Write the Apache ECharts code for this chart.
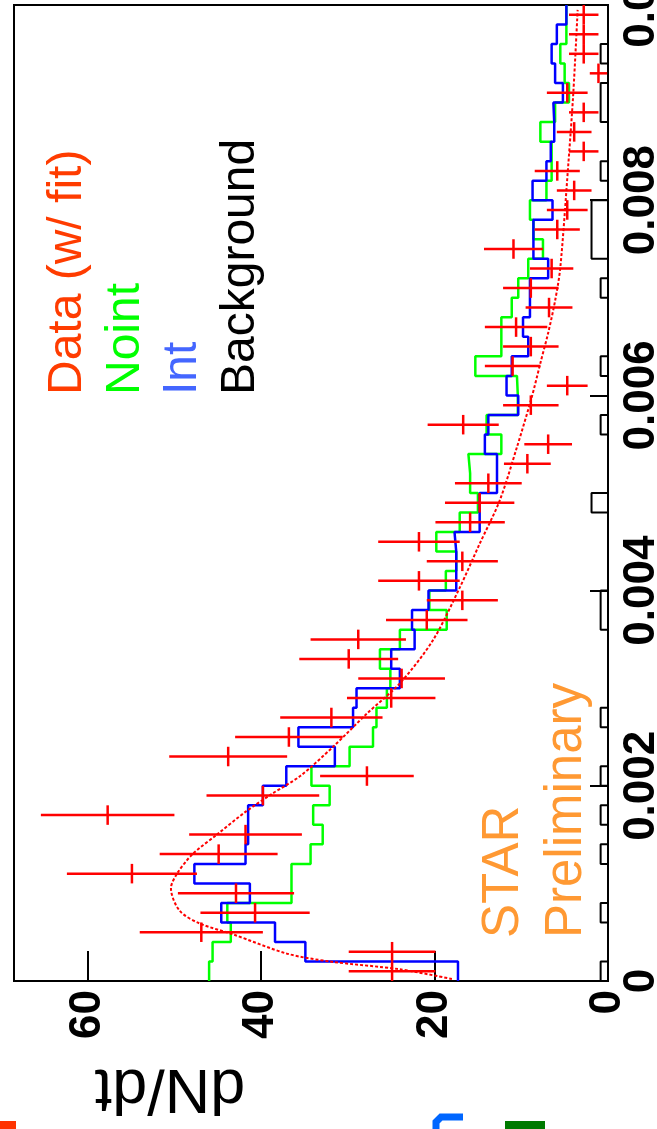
<!DOCTYPE html>
<html>
<head>
<meta charset="utf-8">
<script src="https://cdn.jsdelivr.net/npm/echarts@6/dist/echarts.min.js"></script>
<style>
html,body{margin:0;padding:0;background:#fff;}
#chart{width:657px;height:1129px;}
</style>
</head>
<body>
<div id="chart"></div>
<script>
// ---- data (t bins of width 0.0002 from 0 to 0.01) ----
const binWidth = 0.0002;
const dataValues = [24.9,24.9,46.9,40.7,42.9,54.9,44.9,41.8,57.7,39.8,
  27.8,43.8,36.8,31.9,25.0,23.8,29.9,28.8,20.9,16.8,
  21.8,16.8,21.8,15.9,14.8,13.8,9.3,6.9,16.7,8.9,
  4.7,11.0,8.9,10.6,6.8,8.9,6.5,10.9,5.85,4.7,
  3.9,5.85,2.8,3.9,2.8,4.7,1.1,2.8,2.8,2.8];
const dataErrors = [5.0,5.0,7.1,6.3,6.7,7.5,6.8,6.5,7.7,6.5,
  5.4,6.8,6.2,5.9,5.1,5.0,5.7,5.5,4.7,4.1,
  4.7,4.1,4.7,4.0,4.0,3.85,2.7,2.75,4.1,3.2,
  2.35,3.2,3.2,3.6,2.7,3.2,2.5,3.4,2.6,2.35,
  2.0,2.6,1.7,2.0,1.7,2.35,1.0,1.7,1.7,1.7];
const nointValues = [46.0,45.6,43.5,43.9,36.5,36.5,34.3,32.9,34.0,32.1,
  34.2,29.8,27.1,26.7,25.5,25.1,26.3,24.0,18.6,20.6,
  18.7,17.5,19.8,17.1,15.0,15.9,16.1,12.3,14.0,10.4,
  10.5,15.3,12.3,12.3,11.1,10.35,9.2,7.5,8.6,9.0,
  7.1,6.5,6.5,7.8,6.1,4.5,5.0,5.5,4.8,4.8];
const intValues = [17.3,34.9,38.4,44.6,41.3,47.7,41.8,41.5,41.5,39.8,
  37.1,31.5,35.7,29.4,29.0,24.0,25.0,22.3,22.6,20.7,
  17.5,17.5,17.7,14.8,14.8,12.8,12.8,14.2,13.8,10.35,
  11.7,11.1,9.2,9.8,9.0,9.0,6.9,8.6,8.6,6.4,
  8.7,7.1,6.6,6.2,6.3,5.2,6.1,6.5,5.9,4.8];
const backgroundValues = [0.85,0,0,0.85,0,0,0.85,0,0.85,0,
  0.85,0,0,0.85,0,0,0,0,0.85,0.85,
  0,0,0,0,1.9,0,0,0,0.85,0,
  0,0.85,0,0,0,0.85,0,1.9,1.9,1.9,
  0,0.85,0,0,0.85,0.85,0,0.85,0,0];
const fitT = [0.00002,0.00012,0.0002,0.00028,0.00048,0.00059,0.00072,0.00095,0.0011,0.0013,
  0.0015,0.00174,0.00192,0.0021,0.0024,0.00274,0.00305,0.00349,0.00403,0.00448,
  0.00492,0.00547,0.00598,0.00633,0.00664,0.00697,0.00731,0.00834,0.0091,0.00995];
const fitValues = [18.0,24.0,32.1,37.0,43.3,47.1,49.4,50.4,49.7,47.9,
  45.1,41.7,38.7,35.5,31.7,27.8,24.0,20.2,17.1,14.8,
  12.5,10.5,8.8,7.8,6.9,6.1,5.5,4.6,4.0,3.5];
const dndtTicks = [0,20,40,60];
const tTicks = [0,0.002,0.004,0.006,0.008,0.01];

// ---- build series data ----
function stepPoints(vals){
  const pts=[];
  vals.forEach((v,i)=>{pts.push([v,i*binWidth]);pts.push([v,(i+1)*binWidth]);});
  return pts;
}
const crossData = dataValues.map((v,i)=>[v,(i+0.5)*binWidth,dataErrors[i],binWidth/2]);
const fitData = fitT.map((t,i)=>[fitValues[i],t]);

const FONT='"Liberation Sans", Arial, Helvetica, sans-serif';
const chart = echarts.init(document.getElementById('chart'), null, {renderer:'canvas'});
chart.setOption({
  animation:false,
  backgroundColor:'#fff',
  grid:{left:14,right:49,top:5,bottom:148,containLabel:false,outerBoundsMode:'none',
    show:true,borderColor:'#000',borderWidth:2,backgroundColor:'#fff'},
  xAxis:{
    type:'value',inverse:true,min:0,max:68.5,position:'bottom',
    axisLine:{show:true,lineStyle:{color:'#000',width:2}},
    axisTick:{show:true,inside:true,length:30,customValues:dndtTicks,lineStyle:{color:'#000',width:2}},
    axisLabel:{show:true,customValues:dndtTicks,rotate:90,margin:9,fontSize:44,fontWeight:'bold',color:'#000',fontFamily:FONT},
    splitLine:{show:false}
  },
  yAxis:{
    type:'value',min:0,max:0.01,interval:0.002,position:'right',
    axisLine:{show:true,lineStyle:{color:'#000',width:2}},
    axisTick:{show:true,inside:true,length:18,customValues:tTicks,lineStyle:{color:'#000',width:2}},
    axisLabel:{show:true,customValues:tTicks,rotate:90,margin:12,fontSize:44,fontWeight:'bold',color:'#000',fontFamily:FONT,
      hideOverlap:false,formatter:v=>String(+v.toFixed(4))},
    splitLine:{show:false}
  },
  series:[
    {type:'line',name:'Background',data:stepPoints(backgroundValues),showSymbol:false,symbol:'none',
      lineStyle:{color:'#000',width:2},z:2},
    {type:'line',name:'Noint',data:stepPoints(nointValues),showSymbol:false,symbol:'none',
      lineStyle:{color:'#00ff00',width:2.5},z:3},
    {type:'line',name:'Int',data:stepPoints(intValues),showSymbol:false,symbol:'none',
      lineStyle:{color:'#0000ff',width:2.5},z:4},
    {type:'line',name:'Fit',data:fitData,showSymbol:false,symbol:'none',smooth:0.3,
      lineStyle:{color:'#ff0000',width:2,type:[3,2]},z:5},
    {type:'custom',name:'Data',data:crossData,z:6,
      encode:{x:0,y:1},
      renderItem:function(params,api){
        const v=api.value(0),t=api.value(1),e=api.value(2),hw=api.value(3);
        const a=api.coord([v-e,t]),b=api.coord([v+e,t]);
        const c=api.coord([v,t-hw]),d=api.coord([v,t+hw]);
        const st={stroke:'#ff0000',lineWidth:2.5};
        return {type:'group',children:[
          {type:'line',shape:{x1:a[0],y1:a[1],x2:b[0],y2:b[1]},style:st},
          {type:'line',shape:{x1:c[0],y1:c[1],x2:d[0],y2:d[1]},style:st}
        ]};
      }
    }
  ],
  graphic:[
    {type:'text',x:68,y:395,rotation:Math.PI/2,style:{text:'Data (w/ fit)',fill:'#ff3c00',fontSize:48,fontFamily:FONT,align:'left',verticalAlign:'middle',textAlign:'left',textVerticalAlign:'middle'}},
    {type:'text',x:126,y:395,rotation:Math.PI/2,style:{text:'Noint',fill:'#00ff00',fontSize:48,fontFamily:FONT,align:'left',verticalAlign:'middle',textAlign:'left',textVerticalAlign:'middle'}},
    {type:'text',x:183,y:395,rotation:Math.PI/2,style:{text:'Int',fill:'#4466ff',fontSize:48,fontFamily:FONT,align:'left',verticalAlign:'middle',textAlign:'left',textVerticalAlign:'middle'}},
    {type:'text',x:241,y:395,rotation:Math.PI/2,style:{text:'Background',fill:'#000',fontSize:48,fontFamily:FONT,align:'left',verticalAlign:'middle',textAlign:'left',textVerticalAlign:'middle'}},
    {type:'text',x:504,y:938,rotation:Math.PI/2,style:{text:'STAR',fill:'#ff9933',fontSize:51,fontFamily:FONT,align:'left',verticalAlign:'middle',textAlign:'left',textVerticalAlign:'middle'}},
    {type:'text',x:567,y:938,rotation:Math.PI/2,style:{text:'Preliminary',fill:'#ff9933',fontSize:51,fontFamily:FONT,align:'left',verticalAlign:'middle',textAlign:'left',textVerticalAlign:'middle'}},
    {type:'text',x:170,y:1087,rotation:Math.PI,style:{text:'dN/dt',fill:'#000',fontSize:63,fontFamily:FONT,align:'center',verticalAlign:'middle',textAlign:'center',textVerticalAlign:'middle'}},
    {type:'rect',shape:{x:505,y:1121,width:40,height:8},style:{fill:'#007a00'}},
    {type:'polyline',shape:{points:[[436,1129],[436,1122],[441,1117],[463,1117]]},style:{stroke:'#0066ff',lineWidth:7,fill:null}},
    {type:'rect',shape:{x:0,y:1121,width:16,height:8},style:{fill:'#ff3300'}}
  ]
});
</script>
</body>
</html>
